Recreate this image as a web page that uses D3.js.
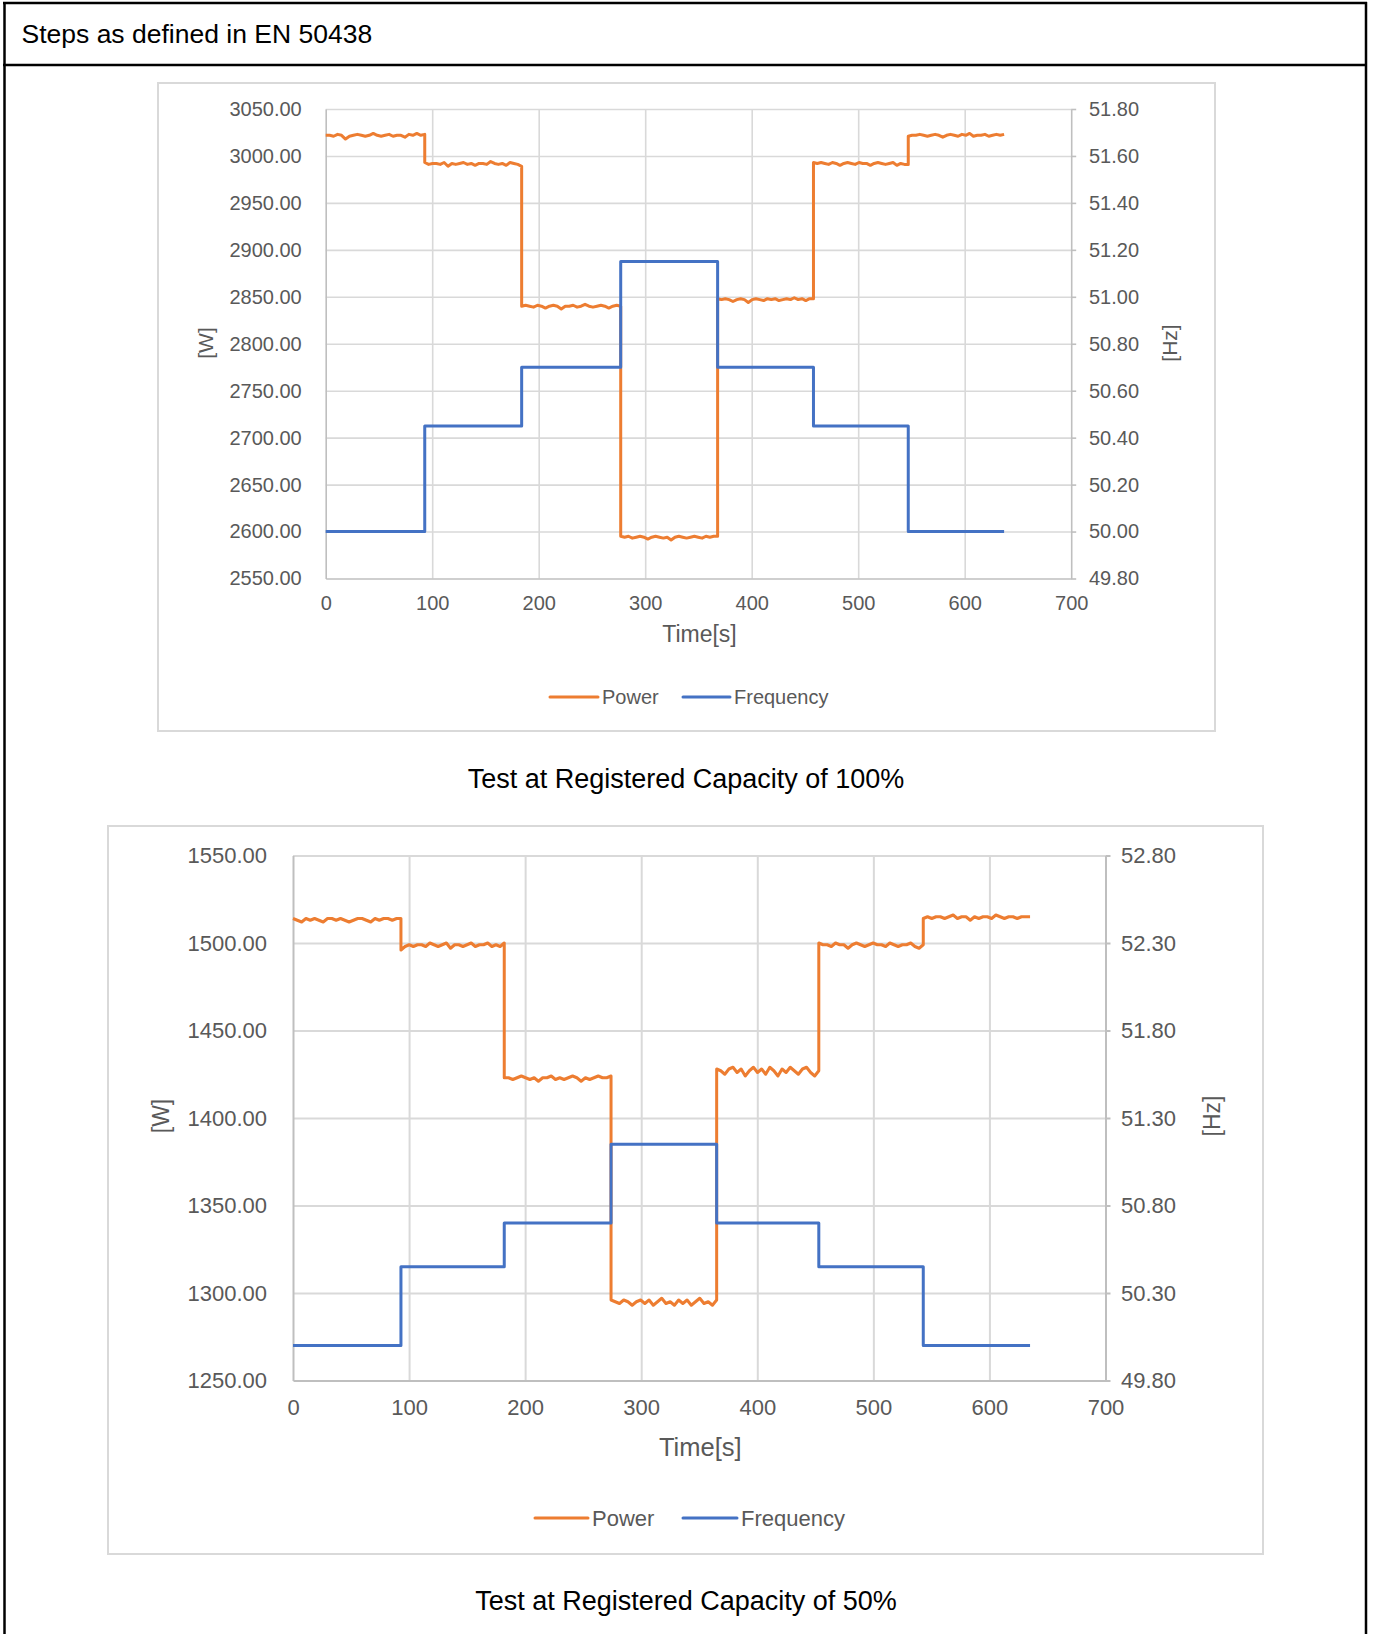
<!DOCTYPE html>
<html>
<head>
<meta charset="utf-8">
<script src="https://cdn.jsdelivr.net/npm/d3@7"></script>
<style>
  body { margin: 0; background: #fff; }
  svg { display: block; }
</style>
</head>
<body>
<div id="page"></div>
<script>
// shared
const timeTicks = [0, 100, 200, 300, 400, 500, 600, 700];
const seriesNames = ['Power', 'Frequency'];
const seriesColors = ['#ED7D31', '#4472C4'];

// test at 100 % : step boundaries [s], frequency per step [Hz], power readings per step [W]
const steps100 = [0, 93, 184, 277, 368, 458, 547, 637];
const freq100 = [50.00, 50.45, 50.70, 51.15, 50.70, 50.45, 50.00];
const power100 = [
  [3022, 3022, 3021, 3023, 3022, 3018, 3021, 3022, 3023, 3022, 3021, 3022, 3024, 3022, 3021, 3022, 3023, 3021, 3022, 3022, 3020, 3023, 3022, 3024, 3022, 3023],
  [2993, 2991, 2992, 2992, 2991, 2993, 2989, 2992, 2991, 2992, 2993, 2991, 2992, 2990, 2992, 2992, 2991, 2994, 2992, 2991, 2992, 2990, 2993, 2992, 2991, 2989],
  [2840, 2841, 2840, 2839, 2841, 2840, 2838, 2840, 2841, 2840, 2837, 2840, 2840, 2841, 2839, 2840, 2842, 2840, 2839, 2840, 2841, 2840, 2838, 2840, 2841, 2840],
  [2595, 2594, 2595, 2593, 2594, 2595, 2594, 2592, 2594, 2595, 2594, 2593, 2594, 2591, 2594, 2595, 2594, 2593, 2594, 2595, 2594, 2593, 2595, 2594, 2595, 2595],
  [2848, 2847, 2848, 2847, 2845, 2847, 2848, 2847, 2844, 2847, 2848, 2847, 2846, 2848, 2847, 2848, 2846, 2847, 2848, 2847, 2849, 2847, 2848, 2846, 2848, 2848],
  [2993, 2992, 2993, 2992, 2991, 2993, 2992, 2990, 2992, 2993, 2992, 2991, 2993, 2992, 2992, 2990, 2992, 2993, 2992, 2991, 2992, 2993, 2990, 2992, 2991, 2991],
  [3021, 3022, 3022, 3023, 3022, 3021, 3022, 3023, 3022, 3020, 3022, 3023, 3022, 3021, 3023, 3022, 3024, 3021, 3022, 3022, 3023, 3021, 3022, 3023, 3022, 3023]
];
const wTicks100 = [2550, 2600, 2650, 2700, 2750, 2800, 2850, 2900, 2950, 3000, 3050];
const hzTicks100 = [49.8, 50.0, 50.2, 50.4, 50.6, 50.8, 51.0, 51.2, 51.4, 51.6, 51.8];

// test at 50 %
const steps50 = [0, 93, 182, 274, 365, 453, 543, 635];
const freq50 = [50.00, 50.45, 50.70, 51.15, 50.70, 50.45, 50.00];
const power50 = [
  [1514, 1513, 1512, 1514, 1513, 1514, 1513, 1512, 1514, 1514, 1513, 1514, 1513, 1512, 1513, 1514, 1514, 1513, 1512, 1514, 1513, 1514, 1514, 1513, 1514, 1514],
  [1496, 1498, 1499, 1498, 1499, 1499, 1498, 1500, 1499, 1498, 1499, 1500, 1497, 1499, 1499, 1498, 1499, 1500, 1498, 1499, 1499, 1500, 1498, 1499, 1498, 1500],
  [1423, 1423, 1422, 1423, 1424, 1423, 1422, 1423, 1421, 1423, 1423, 1424, 1422, 1423, 1422, 1423, 1424, 1423, 1421, 1423, 1422, 1423, 1424, 1423, 1423, 1424],
  [1296, 1295, 1294, 1296, 1295, 1293, 1295, 1296, 1294, 1296, 1293, 1295, 1297, 1294, 1295, 1293, 1296, 1294, 1296, 1293, 1295, 1297, 1294, 1295, 1293, 1296],
  [1428, 1427, 1425, 1428, 1429, 1426, 1428, 1424, 1427, 1429, 1426, 1428, 1425, 1429, 1427, 1424, 1428, 1426, 1429, 1427, 1425, 1428, 1429, 1426, 1424, 1427],
  [1500, 1499, 1499, 1498, 1500, 1499, 1499, 1497, 1499, 1500, 1499, 1498, 1499, 1500, 1499, 1499, 1498, 1500, 1499, 1498, 1499, 1499, 1500, 1498, 1497, 1499],
  [1514, 1515, 1514, 1515, 1515, 1514, 1515, 1516, 1514, 1515, 1515, 1513, 1515, 1514, 1515, 1515, 1514, 1516, 1515, 1514, 1515, 1515, 1514, 1515, 1515, 1515]
];
const wTicks50 = [1250, 1300, 1350, 1400, 1450, 1500, 1550];
const hzTicks50 = [49.8, 50.3, 50.8, 51.3, 51.8, 52.3, 52.8];

const W = 1373, H = 1634;
const FONT = "'Liberation Sans', Arial, sans-serif";
const svg = d3.select('#page').append('svg').attr('width', W).attr('height', H);

// table frame
svg.append('line').attr('x1', 4.5).attr('x2', 4.5).attr('y1', 2).attr('y2', H).attr('stroke', '#000').attr('stroke-width', 2.5);
svg.append('line').attr('x1', 1366).attr('x2', 1366).attr('y1', 2).attr('y2', H).attr('stroke', '#000').attr('stroke-width', 2.5);
svg.append('line').attr('x1', 3).attr('x2', 1367).attr('y1', 3).attr('y2', 3).attr('stroke', '#000').attr('stroke-width', 2.5);
svg.append('line').attr('x1', 3).attr('x2', 1367).attr('y1', 65).attr('y2', 65).attr('stroke', '#000').attr('stroke-width', 2.5);
svg.append('text').attr('x', 21.5).attr('y', 43).attr('font-family', FONT).attr('font-size', 26.5)
  .attr('fill', '#000').text('Steps as defined in EN 50438');

function powerPoints(steps, readings) {
  const pts = [];
  readings.forEach((seg, i) => {
    const t0 = steps[i], t1 = steps[i + 1];
    seg.forEach((v, j) => pts.push([t0 + (t1 - t0) * j / (seg.length - 1), v]));
  });
  return pts;
}

function freqPoints(steps, freqs) {
  const pts = [];
  freqs.forEach((f, i) => { pts.push([steps[i], f]); pts.push([steps[i + 1], f]); });
  return pts;
}

function drawChart(cfg) {
  const g = svg.append('g');
  const p = cfg.plot;
  g.append('rect').attr('x', cfg.box.x).attr('y', cfg.box.y).attr('width', cfg.box.w).attr('height', cfg.box.h)
    .attr('fill', '#fff').attr('stroke', '#d9d9d9').attr('stroke-width', 2);

  const x = d3.scaleLinear().domain([0, 700]).range([p.l, p.r]);
  const yL = d3.scaleLinear().domain(d3.extent(cfg.wTicks)).range([p.b, p.t]);
  const yR = d3.scaleLinear().domain(d3.extent(cfg.hzTicks)).range([p.b, p.t]);

  // grid
  g.append('g').attr('transform', `translate(${p.l},0)`)
    .call(d3.axisLeft(yL).tickValues(cfg.wTicks.slice(1)).tickSize(-(p.r - p.l)).tickFormat(''))
    .call(s => s.select('.domain').remove())
    .call(s => s.selectAll('line').attr('stroke', '#d9d9d9').attr('stroke-width', cfg.grid));
  g.append('g').attr('transform', `translate(0,${p.b})`)
    .call(d3.axisBottom(x).tickValues(timeTicks.slice(1, -1)).tickSize(-(p.b - p.t)).tickFormat(''))
    .call(s => s.select('.domain').remove())
    .call(s => s.selectAll('line').attr('stroke', '#d9d9d9').attr('stroke-width', cfg.grid));

  const styleAxis = s => {
    s.select('.domain').attr('stroke', '#bfbfbf').attr('stroke-width', cfg.grid);
    s.selectAll('.tick line').attr('stroke', '#bfbfbf').attr('stroke-width', cfg.grid);
    s.selectAll('text').attr('font-family', FONT).attr('font-size', cfg.fs).attr('fill', '#595959');
  };

  g.append('g').attr('transform', `translate(${p.l},0)`)
    .call(d3.axisLeft(yL).tickValues(cfg.wTicks).tickFormat(d3.format('.2f')).tickSize(0).tickSizeOuter(0)
      .tickPadding(p.l - cfg.leftLabelX))
    .call(styleAxis);
  g.append('g').attr('transform', `translate(${p.r},0)`)
    .call(d3.axisRight(yR).tickValues(cfg.hzTicks).tickFormat(d3.format('.2f')).tickSize(5).tickSizeOuter(0)
      .tickPadding(cfg.rightLabelX - p.r - 5))
    .call(styleAxis);
  g.append('g').attr('transform', `translate(0,${p.b})`)
    .call(d3.axisBottom(x).tickValues(timeTicks).tickSize(0).tickSizeOuter(0).tickPadding(cfg.xPad))
    .call(styleAxis);

  // axis titles
  const title = (tx, ty, rot, str, fs) => g.append('text')
    .attr('transform', `translate(${tx},${ty}) rotate(${rot})`)
    .attr('text-anchor', 'middle').attr('dominant-baseline', 'central')
    .attr('font-family', FONT).attr('font-size', fs).attr('fill', '#595959').text(str);
  title(cfg.wTitle[0], cfg.wTitle[1], -90, '[W]', cfg.fs + 1);
  title(cfg.hzTitle[0], cfg.hzTitle[1], -90, '[Hz]', cfg.fs + 1);
  title((p.l + p.r) / 2 + 1, cfg.timeTitleY, 0, 'Time[s]', cfg.ts);

  // series
  g.append('path').datum(powerPoints(cfg.steps, cfg.power))
    .attr('d', d3.line().x(d => x(d[0])).y(d => yL(d[1]))).attr('fill', 'none')
    .attr('stroke', seriesColors[0]).attr('stroke-width', 3).attr('stroke-linejoin', 'round');
  g.append('path').datum(freqPoints(cfg.steps, cfg.freq))
    .attr('d', d3.line().x(d => x(d[0])).y(d => yR(d[1]))).attr('fill', 'none')
    .attr('stroke', seriesColors[1]).attr('stroke-width', 3).attr('stroke-linejoin', 'round');

  // legend
  seriesNames.forEach((name, i) => {
    const lx = cfg.legendX[i];
    g.append('line').attr('x1', lx[0]).attr('x2', lx[1]).attr('y1', cfg.legendY).attr('y2', cfg.legendY)
      .attr('stroke', seriesColors[i]).attr('stroke-width', 3).attr('stroke-linecap', 'round');
    g.append('text').attr('x', lx[1] + 4).attr('y', cfg.legendY).attr('dominant-baseline', 'central')
      .attr('font-family', FONT).attr('font-size', cfg.fs).attr('fill', '#595959').text(name);
  });

  svg.append('text').attr('x', 686).attr('y', cfg.captionY).attr('text-anchor', 'middle')
    .attr('font-family', FONT).attr('font-size', 27).attr('fill', '#000').text(cfg.caption);
}

drawChart({
  box: { x: 158, y: 83, w: 1057, h: 648 },
  plot: { l: 325.7, r: 1071.2, t: 109, b: 578.5 },
  steps: steps100, freq: freq100, power: power100, wTicks: wTicks100, hzTicks: hzTicks100,
  fs: 20, ts: 23, grid: 1.6, leftLabelX: 301.7, rightLabelX: 1089, xPad: 17.5,
  wTitle: [205, 343], hzTitle: [1169, 343], timeTitleY: 634,
  legendY: 697, legendX: [[550, 598], [683, 730]],
  caption: 'Test at Registered Capacity of 100%', captionY: 788
});

drawChart({
  box: { x: 108, y: 826, w: 1155, h: 728 },
  plot: { l: 293, r: 1105.5, t: 855.5, b: 1380.5 },
  steps: steps50, freq: freq50, power: power50, wTicks: wTicks50, hzTicks: hzTicks50,
  fs: 22, ts: 25.5, grid: 2, leftLabelX: 267, rightLabelX: 1121, xPad: 19,
  wTitle: [161, 1116], hzTitle: [1212, 1116], timeTitleY: 1447,
  legendY: 1518, legendX: [[535, 588], [683, 737]],
  caption: 'Test at Registered Capacity of 50%', captionY: 1610
});
</script>
</body>
</html>
